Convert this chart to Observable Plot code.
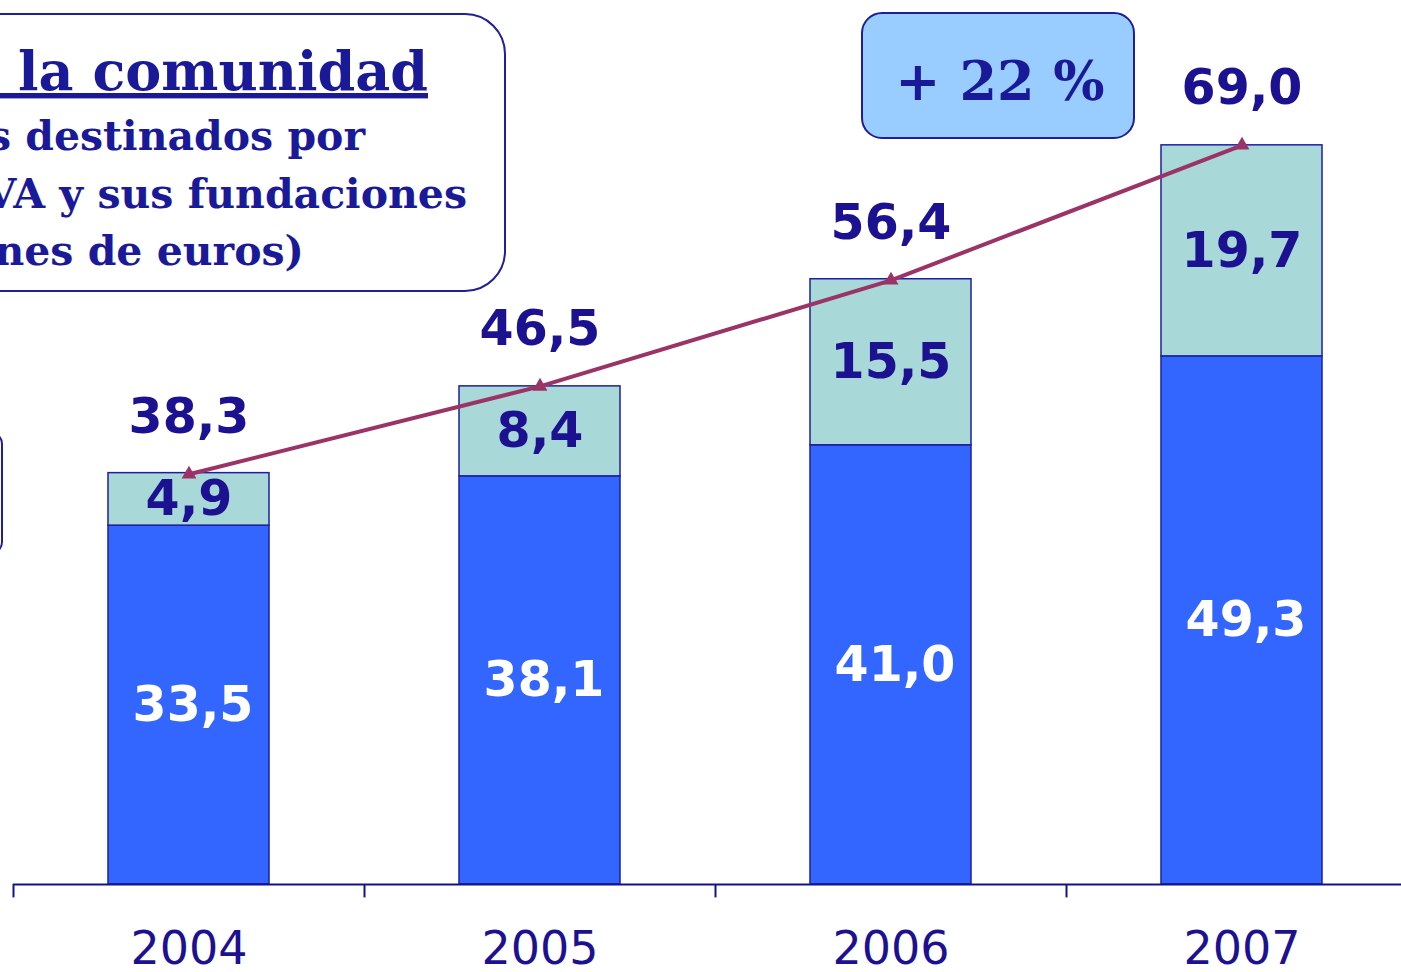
<!DOCTYPE html>
<html>
<head>
<meta charset="utf-8">
<script src="https://cdn.jsdelivr.net/npm/d3@7"></script>
<script src="https://cdn.jsdelivr.net/npm/@observablehq/plot@0.6"></script>
<style>
  html, body { margin: 0; padding: 0; overflow: hidden; background: #fff; }
  #wrap { position: relative; width: 1401px; height: 972px; overflow: hidden; }
  #wrap > svg { position: absolute; left: 0; top: 0; }
  #overlay { position: absolute; left: 0; top: 0; }
</style>
</head>
<body>
<div id="wrap"></div>
<script>
// ---- data ----
const years = ["2004", "2005", "2006", "2007"];
const baseValues = [33.5, 38.1, 41.0, 49.3];
const topValues = [4.9, 8.4, 15.5, 19.7];
const totals = [38.3, 46.5, 56.4, 69.0];
const growthLabel = "+ 22 %";
const titleLines = [
  "Compromiso con la comunidad",
  "Recursos destinados por",
  "BBVA y sus fundaciones",
  "(millones de euros)"
];

const fmt = v => v.toFixed(1).replace(".", ",");
const navy = "#1c1190";
const boxNavy = "#1f1f9a";

const rows = [];
years.forEach((y, i) => {
  rows.push({year: y, series: "base", value: baseValues[i]});
  rows.push({year: y, series: "top", value: topValues[i]});
});
const totalRows = years.map((y, i) => ({year: y, total: totals[i]}));
const baseLabels = years.map((y, i) => ({year: y, mid: baseValues[i] / 2, text: fmt(baseValues[i])}));
const topLabels = years.map((y, i) => ({year: y, mid: baseValues[i] + topValues[i] / 2, text: fmt(topValues[i])}));

const W = 1420, H = 972, mL = 13, mR = 3;
const step = (W - mL - mR) / years.length;

const chart = Plot.plot({
  width: W,
  height: H,
  marginLeft: mL,
  marginRight: mR,
  marginTop: 27,
  marginBottom: 88,
  style: {fontFamily: "DejaVu Sans", overflow: "visible", background: "transparent", maxWidth: "none"},
  x: {domain: years, paddingInner: 0.54, paddingOuter: 0.27, axis: null},
  y: {domain: [0, 80], axis: null},
  color: {domain: ["base", "top"], range: ["#3366FF", "#A8D8D8"]},
  marks: [
    Plot.barY(rows, {x: "year", y: "value", fill: "series", stroke: "#1f1f9e", strokeWidth: 1.5}),
    Plot.ruleY([0], {stroke: "#14128a", strokeWidth: 2}),
    Plot.ruleX(years, {x: d => d, y1: 0, y2: -1.25, dx: -step / 2, stroke: "#14128a", strokeWidth: 2}),
    Plot.line(totalRows, {x: "year", y: "total", stroke: "#9B3366", strokeWidth: 4}),
    Plot.dot(totalRows, {x: "year", y: "total", symbol: "triangle", fill: "#9B3366", r: 5.5}),
    Plot.text(totalRows, {x: "year", y: "total", text: d => fmt(d.total), dy: -57, fontSize: 49, fontWeight: "bold", fill: navy}),
    Plot.text(topLabels, {x: "year", y: "mid", text: "text", fontSize: 49, fontWeight: "bold", fill: navy}),
    Plot.text(baseLabels, {x: "year", y: "mid", text: "text", fontSize: 49, fontWeight: "bold", fill: "white", dx: 4}),
    Plot.text(years, {x: d => d, y: 0, text: d => d, dy: 79, lineAnchor: "bottom", fontSize: 46, fill: navy})
  ]
});
chart.style.maxWidth = "none";
chart.style.width = W + "px";
chart.style.height = H + "px";
document.getElementById("wrap").appendChild(chart);

// ---- annotation boxes ----
const ov = d3.select("#wrap").append("svg")
  .attr("id", "overlay").attr("width", 1401).attr("height", 972);

// title box (cut off at left, as in the original slide)
ov.append("rect").attr("x", -400).attr("y", 14).attr("width", 905).attr("height", 277)
  .attr("rx", 40).attr("fill", "white").attr("stroke", boxNavy).attr("stroke-width", 2);

const tFont = "'DejaVu Serif', serif";
const tl = [
  {text: titleLines[0], x: 428, y: 90, size: 54, underline: true},
  {text: titleLines[1], x: 365, y: 150, size: 41},
  {text: titleLines[2], x: 467, y: 208, size: 41},
  {text: titleLines[3], x: 304, y: 265, size: 41}
];
tl.forEach(l => {
  ov.append("text").attr("x", l.x).attr("y", l.y).attr("text-anchor", "end")
    .attr("font-family", tFont).attr("font-weight", "bold").attr("font-size", l.size)
    .attr("fill", "#1a1a99")
    .style("text-decoration", l.underline ? "underline" : null)
    .text(l.text);
});

// growth box
ov.append("rect").attr("x", 862).attr("y", 13).attr("width", 272).attr("height", 125)
  .attr("rx", 20).attr("fill", "#99CCFF").attr("stroke", boxNavy).attr("stroke-width", 2);
ov.append("text").attr("x", 1000).attr("y", 100).attr("text-anchor", "middle")
  .attr("font-family", tFont).attr("font-weight", "bold").attr("font-size", 54)
  .attr("fill", "#1a1a99").text(growthLabel);

// partial box at left edge
ov.append("rect").attr("x", -200).attr("y", 432).attr("width", 202).attr("height", 122)
  .attr("rx", 12).attr("fill", "none").attr("stroke", boxNavy).attr("stroke-width", 2);
</script>
</body>
</html>
